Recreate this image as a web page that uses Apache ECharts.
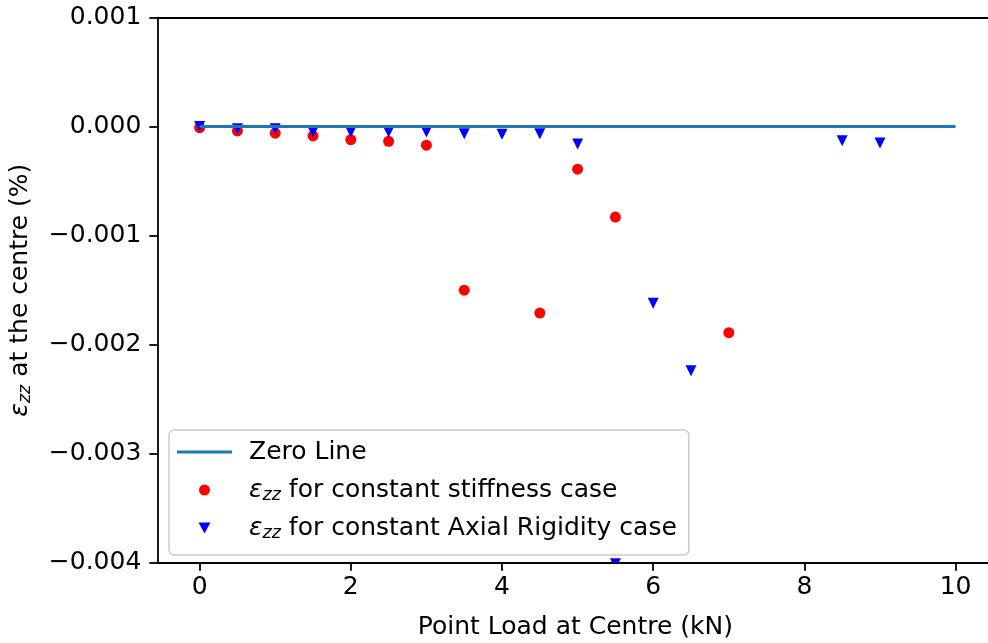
<!DOCTYPE html>
<html>
<head>
<meta charset="utf-8">
<script src="https://cdn.jsdelivr.net/npm/echarts@6/dist/echarts.min.js"></script>
<style>
  html, body { margin: 0; padding: 0; background: #ffffff; }
  #chart { width: 988px; height: 643px; }
</style>
</head>
<body>
<div id="chart"></div>
<script>
// Centre strain (%) against point load (kN) for the two material models
const loadStiff = [0, 0.5, 1, 1.5, 2, 2.5, 3, 3.5, 4.5, 5, 5.5, 7];
const strainStiff = [-0.00001, -0.00004, -0.00006, -0.000085, -0.00012, -0.000135, -0.00017,
                     -0.0015, -0.00171, -0.00039, -0.00083, -0.00189];

const loadAxial = [0, 0.5, 1, 1.5, 2, 2.5, 3, 3.5, 4, 4.5, 5, 5.5, 6, 6.5, 8.5, 9];
const strainAxial = [0, -0.00002, -0.00002, -0.00005, -0.00005, -0.00005, -0.00005, -0.000065,
                     -0.00007, -0.000065, -0.00016, -0.00401, -0.00162, -0.00224, -0.00013, -0.00015];

const zeroLoad = [0, 10];
const zeroStrain = [0, 0];

const xTicks = [0, 2, 4, 6, 8, 10];
const yTicks = [-0.004, -0.003, -0.002, -0.001, 0, 0.001];

const NAME_ZERO = 'Zero Line';
const NAME_STIFF = 'εzz for constant stiffness case';
const NAME_AXIAL = 'εzz for constant Axial Rigidity case';

const FONT = 'DejaVu Sans';
const FS = 25;
const LH = 30;
const AXIS_COLOR = '#000000';
const TRI = 11;

const pairs = (xs, ys) => xs.map((x, i) => [x, ys[i]]);

// ε with an italic "zz" subscript, as rich-text styles
const epsRich = {
  e: { fontFamily: FONT, fontSize: FS, fontStyle: 'italic', color: '#000', lineHeight: LH },
  s: { fontFamily: FONT, fontSize: 17.5, fontStyle: 'italic', color: '#000',
       verticalAlign: 'bottom', lineHeight: LH, padding: [0, 0, 1, 0] },
  t: { fontFamily: FONT, fontSize: FS, color: '#000', lineHeight: LH },
  g: { width: 12, lineHeight: LH }
};

const chart = echarts.init(document.getElementById('chart'), null, { renderer: 'canvas' });

const axisLine = { show: true, onZero: false, lineStyle: { color: AXIS_COLOR, width: 1.8 } };
const labelStyle = { fontFamily: FONT, fontSize: FS, color: '#000' };

chart.setOption({
  animation: false,
  backgroundColor: '#ffffff',
  // the plot box runs slightly past the right edge of the canvas
  grid: { left: 157.3, top: 17.6, width: 836.1, height: 545.1, containLabel: false, outerBoundsMode: 'none' },
  xAxis: [
    {
      type: 'value', min: -0.56, max: 10.5,
      axisLine: axisLine,
      axisTick: { show: true, customValues: xTicks, length: 8, lineStyle: { color: AXIS_COLOR, width: 1.8 } },
      axisLabel: Object.assign({ customValues: xTicks, margin: 12 }, labelStyle),
      splitLine: { show: false },
      name: 'Point Load at Centre (kN)',
      nameLocation: 'middle',
      nameGap: 52,
      nameTextStyle: labelStyle
    },
    {
      type: 'value', min: -0.56, max: 10.5, position: 'top',
      axisLine: axisLine,
      axisTick: { show: false }, axisLabel: { show: false }, splitLine: { show: false }
    }
  ],
  yAxis: {
    type: 'value', min: -0.004, max: 0.001,
    axisLine: axisLine,
    axisTick: { show: true, customValues: yTicks, length: 8, lineStyle: { color: AXIS_COLOR, width: 1.8 } },
    axisLabel: Object.assign({
      customValues: yTicks, margin: 16,
      formatter: v => (Math.abs(v) < 1e-12 ? 0 : v).toFixed(3).replace('-', '\u2212')
    }, labelStyle),
    splitLine: { show: false },
    name: '{e|ε}{s|zz}{t| at the centre (%)}',
    nameLocation: 'middle',
    nameRotate: 90,
    nameGap: 122,
    nameTextStyle: { fontFamily: FONT, fontSize: FS, color: '#000', rich: epsRich }
  },
  legend: {
    orient: 'vertical',
    left: 169, top: 430,
    padding: [7, 12, 12, 8],
    itemGap: 8,
    itemWidth: 55,
    itemHeight: 11,
    selectedMode: false,
    backgroundColor: 'rgba(255,255,255,0.8)',
    borderColor: '#cccccc',
    borderWidth: 1.5,
    borderRadius: 5,
    data: [
      { name: NAME_ZERO, icon: 'path://M0,0L55,0L55,3L0,3Z', itemStyle: { color: '#1f77b4' } },
      { name: NAME_STIFF, icon: 'circle', itemStyle: { color: '#ff0000', opacity: 1 } },
      { name: NAME_AXIAL, icon: 'path://M0,0L12,0L6,11Z', itemStyle: { color: '#0000ff' } }
    ],
    formatter: name => name === NAME_ZERO
      ? '{g| }{t|' + name + '}'
      : '{g| }{e|ε}{s|zz}{t|' + name.slice(3) + '}',
    textStyle: { fontFamily: FONT, fontSize: FS, color: '#000', lineHeight: LH, rich: epsRich }
  },
  series: [
    {
      name: NAME_STIFF,
      type: 'scatter',
      z: 2,
      symbol: 'circle',
      symbolSize: 11,
      itemStyle: { color: '#ff0000', opacity: 1 },
      data: pairs(loadStiff, strainStiff)
    },
    {
      name: NAME_AXIAL,
      type: 'custom',
      z: 3,
      clip: true,
      itemStyle: { color: '#0000ff' },
      encode: { x: 0, y: 1 },
      data: pairs(loadAxial, strainAxial),
      renderItem: (params, api) => {
        const p = api.coord([api.value(0), api.value(1)]);
        const h = TRI / 2;
        return {
          type: 'polygon',
          shape: { points: [[p[0] - h, p[1] - h], [p[0] + h, p[1] - h], [p[0], p[1] + h]] },
          style: { fill: '#0000ff' }
        };
      }
    },
    {
      name: NAME_ZERO,
      type: 'line',
      z: 4,
      symbol: 'none',
      lineStyle: { color: '#1f77b4', width: 3 },
      itemStyle: { color: '#1f77b4' },
      data: pairs(zeroLoad, zeroStrain)
    }
  ]
});
</script>
</body>
</html>
